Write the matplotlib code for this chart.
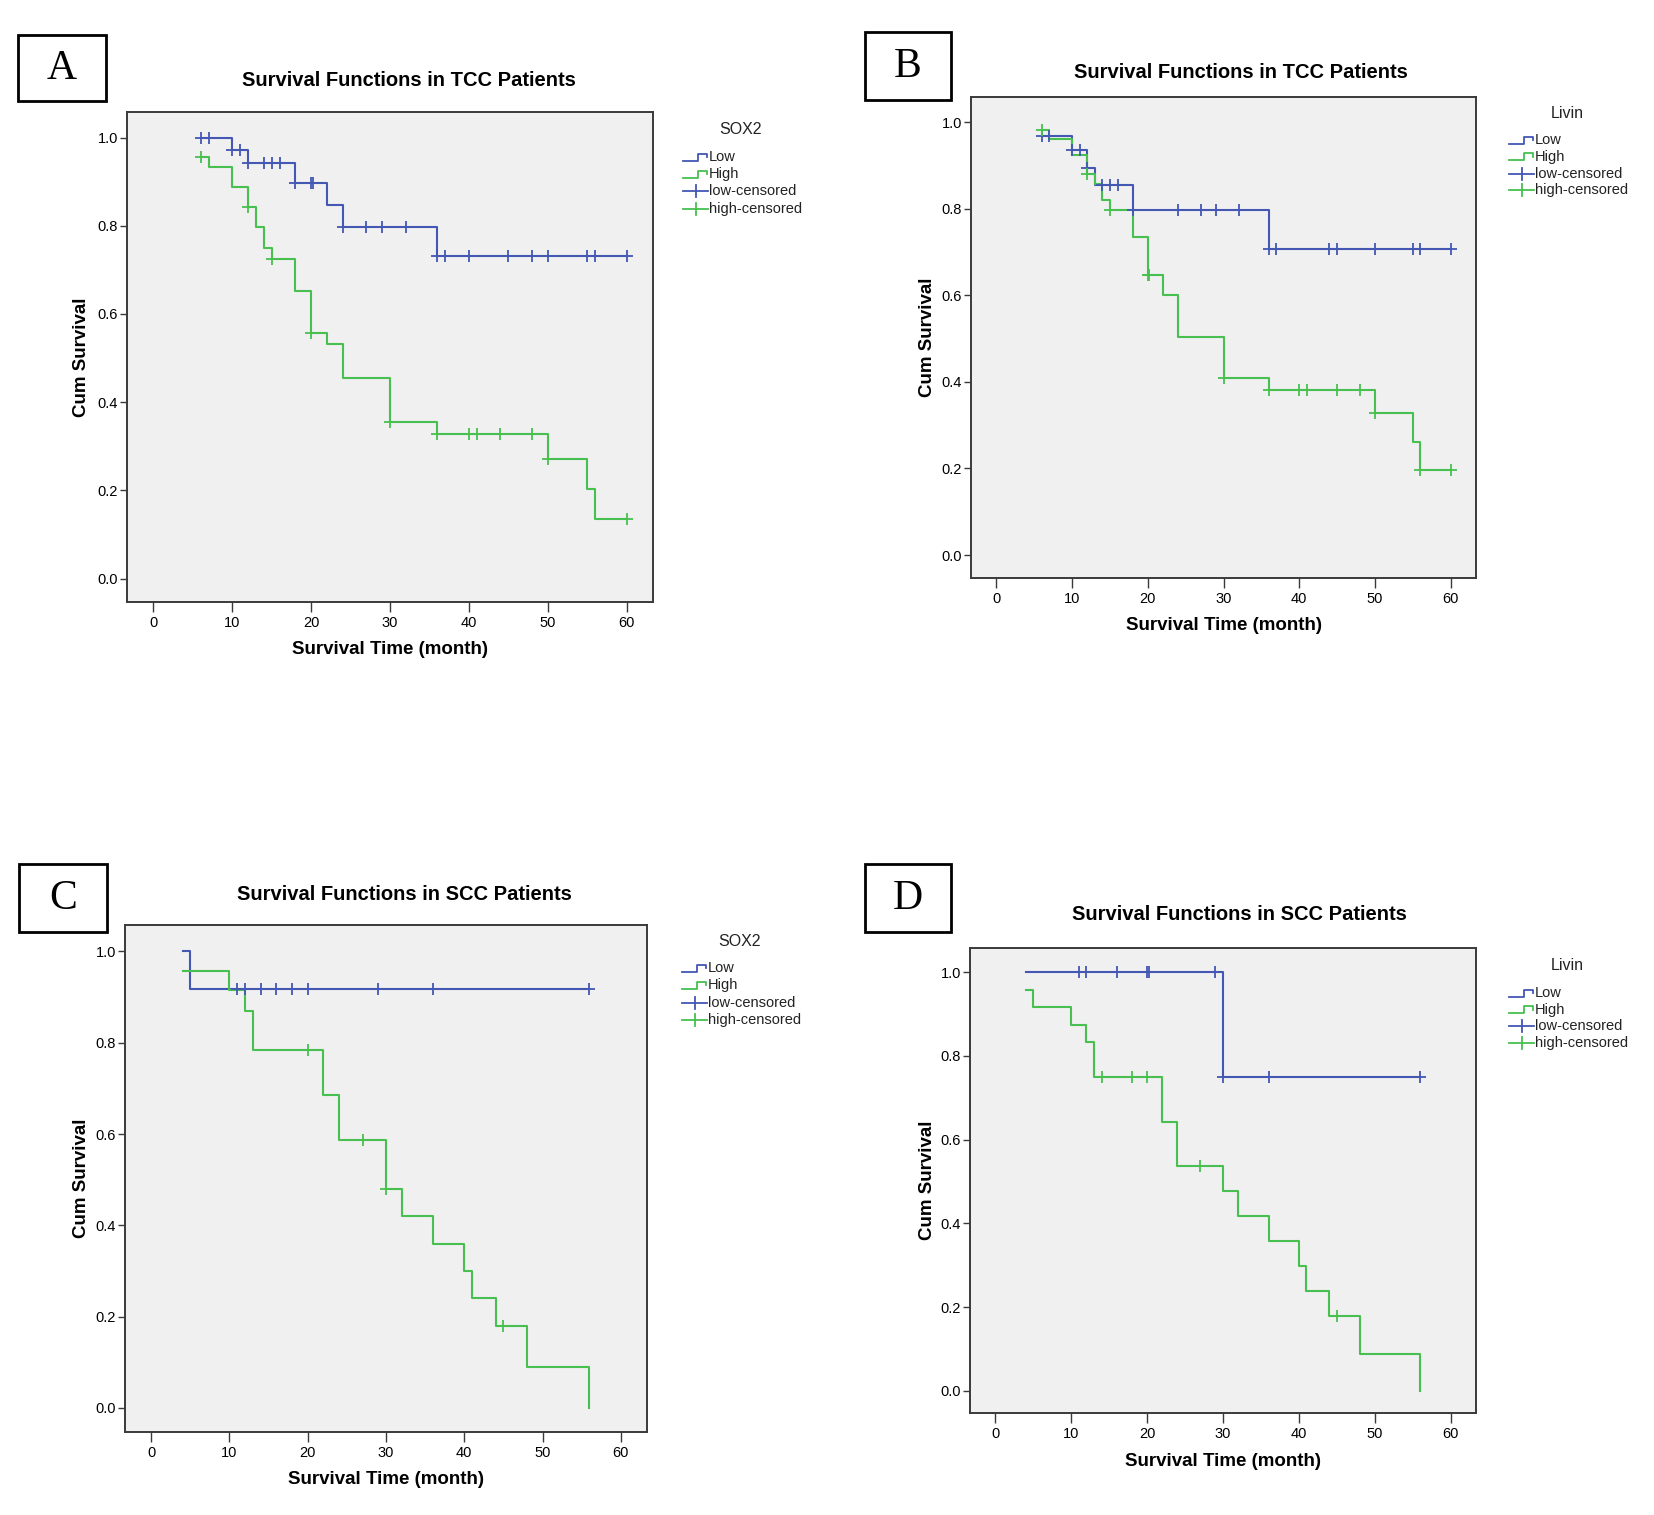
import numpy as np
import matplotlib
matplotlib.use("Agg")
import matplotlib.pyplot as plt
from matplotlib.ticker import FormatStrFormatter

plt.rcParams['font.family'] = ['Liberation Sans', 'DejaVu Sans']

# ---- data ----
# step times / survival after each step, censored times
# A: SOX2 in TCC
a_low_t = [6, 10, 12, 18, 22, 24, 36, 60]
a_low_s = [1.0, 0.971, 0.942, 0.897, 0.848, 0.797, 0.731, 0.731]
a_low_c = [6, 7, 10, 11, 12, 14, 15, 16, 18, 20, 20.2, 24, 27, 29, 32,
           36, 37, 40, 45, 48, 50, 55, 56, 60]
a_high_t = [6, 7, 10, 12, 13, 14, 15, 18, 20, 22, 24, 30, 36, 50, 55, 56, 60]
a_high_s = [0.955, 0.933, 0.888, 0.843, 0.797, 0.750, 0.725, 0.653, 0.556,
            0.532, 0.455, 0.354, 0.328, 0.272, 0.204, 0.136, 0.136]
a_high_c = [6, 12, 15, 20, 30, 36, 40, 41, 44, 48, 50, 60]

# B: Livin in TCC
b_low_t = [6, 10, 12, 13, 18, 36, 60]
b_low_s = [0.967, 0.935, 0.894, 0.855, 0.797, 0.708, 0.708]
b_low_c = [6, 7, 10, 11, 12, 14, 15, 16, 18, 24, 27, 29, 32,
           36, 37, 44, 45, 50, 55, 56, 60]
b_high_t = [6, 7, 10, 12, 13, 14, 15, 18, 20, 22, 24, 30, 36, 50, 55, 56, 60]
b_high_s = [0.981, 0.962, 0.923, 0.881, 0.858, 0.819, 0.798, 0.734, 0.648,
            0.600, 0.504, 0.408, 0.382, 0.328, 0.262, 0.197, 0.197]
b_high_c = [6, 12, 15, 20, 20.2, 30, 36, 40, 41, 45, 48, 50, 56, 60]

# C: SOX2 in SCC
c_low_t = [4, 5, 56]
c_low_s = [1.0, 0.917, 0.917]
c_low_c = [11, 12, 14, 16, 18, 20, 29, 36, 56]
c_high_t = [4, 10, 12, 13, 22, 24, 30, 32, 36, 40, 41, 44, 48, 56]
c_high_s = [0.957, 0.915, 0.870, 0.783, 0.685, 0.587, 0.480, 0.420, 0.360,
            0.300, 0.240, 0.180, 0.090, 0.0]
c_high_c = [20, 27, 30, 45]

# D: Livin in SCC
d_low_t = [4, 30, 56]
d_low_s = [1.0, 0.75, 0.75]
d_low_c = [11, 12, 16, 20, 20.2, 29, 30, 36, 56]
d_high_t = [4, 5, 10, 12, 13, 22, 24, 30, 32, 36, 40, 41, 44, 48, 56]
d_high_s = [0.958, 0.917, 0.875, 0.833, 0.750, 0.643, 0.536, 0.477, 0.417,
            0.357, 0.298, 0.238, 0.179, 0.089, 0.0]
d_high_c = [14, 18, 20, 27, 45]

letters = ['A', 'B', 'C', 'D']
titles = ['Survival Functions in TCC Patients', 'Survival Functions in TCC Patients',
          'Survival Functions in SCC Patients', 'Survival Functions in SCC Patients']
markers = ['SOX2', 'Livin', 'SOX2', 'Livin']
legend_labels = ['Low', 'High', 'low-censored', 'high-censored']
xticks = [0, 10, 20, 30, 40, 50, 60]
yticks = [0.0, 0.2, 0.4, 0.6, 0.8, 1.0]

curves = [
    (a_low_t, a_low_s, a_low_c, a_high_t, a_high_s, a_high_c),
    (b_low_t, b_low_s, b_low_c, b_high_t, b_high_s, b_high_c),
    (c_low_t, c_low_s, c_low_c, c_high_t, c_high_s, c_high_c),
    (d_low_t, d_low_s, d_low_c, d_high_t, d_high_s, d_high_c),
]

# ---- layout (pixels of a 1654x1515 canvas) ----
W, H = 1654, 1515
BLUE = '#4357b3'
GREEN = '#47c04f'

layout = [
    # axes l,t,r,b ; box l,t,r,b ; title xy ; ylabel x ; xlabel y ; legend x0, title y, first row y, step
    dict(ax=(127, 112, 653, 602), box=(18, 35, 106, 101), title=(409, 80), ylab=82, xlab=650,
         leg=(683, 130, 157, 17.2)),
    dict(ax=(971, 97, 1476, 578), box=(865, 32, 951, 100), title=(1241, 72), ylab=927, xlab=626,
         leg=(1509, 114, 140, 16.8)),
    dict(ax=(125, 925, 647, 1432), box=(19, 864, 107, 932), title=(404, 895), ylab=82, xlab=1480,
         leg=(682, 942, 968, 17.3)),
    dict(ax=(970, 948, 1476, 1413), box=(865, 864, 951, 932), title=(1239, 915), ylab=927, xlab=1461,
         leg=(1509, 966, 993, 16.7)),
]


def rect(l, t, r, b):
    return [l / W, 1 - b / H, (r - l) / W, (b - t) / H]


def censor_y(t, s, c):
    idx = np.searchsorted(t, c, side='right') - 1
    return np.array(s)[np.clip(idx, 0, len(s) - 1)]


fig = plt.figure(figsize=(W / 100, H / 100), dpi=100)
fig.patch.set_facecolor('white')

over = fig.add_axes([0, 0, 1, 1], zorder=5)
over.set_xlim(0, W)
over.set_ylim(H, 0)
over.axis('off')
over.patch.set_alpha(0)

for i in range(4):
    lo = layout[i]
    lt, ls, lc, ht, hs, hc = curves[i]
    ax = fig.add_axes(rect(*lo['ax']))
    ax.set_facecolor('#f0f0f0')
    for sp in ax.spines.values():
        sp.set_color('#3a3a3a')
        sp.set_linewidth(1.4)

    ax.step(lt, ls, where='post', color=BLUE, lw=1.5)
    ax.step(ht, hs, where='post', color=GREEN, lw=1.5)
    ax.plot(lc, censor_y(lt, ls, lc), ls='none', marker='+', ms=9, mew=1.3, color=BLUE)
    ax.plot(hc, censor_y(ht, hs, hc), ls='none', marker='+', ms=9, mew=1.3, color=GREEN)

    ax.set_xlim(-3.35, 63.35)
    ax.set_ylim(-0.053, 1.058)
    ax.set_xticks(xticks)
    ax.set_yticks(yticks)
    ax.yaxis.set_major_formatter(FormatStrFormatter('%.1f'))
    ax.tick_params(axis='y', length=5, width=1, pad=1.5, labelsize=10.5, color='#3a3a3a')
    ax.tick_params(axis='x', length=7, width=1, pad=3, labelsize=10.5, color='#3a3a3a')

    # panel letter box
    bl, bt, br, bb = lo['box']
    over.add_patch(plt.Rectangle((bl, bt), br - bl, bb - bt, fill=False, ec='black', lw=2))
    over.text((bl + br) / 2, (bt + bb) / 2 + 1, letters[i], family='Liberation Serif',
              fontsize=30, ha='center', va='center')

    # titles and axis labels
    axl, axt, axr, axb = lo['ax']
    over.text(lo['title'][0], lo['title'][1], titles[i], fontsize=14.5, fontweight='bold',
              ha='center', va='center')
    over.text(lo['ylab'], (axt + axb) / 2, 'Cum Survival', fontsize=13.5, fontweight='bold',
              rotation=90, ha='center', va='center')
    over.text((axl + axr) / 2, lo['xlab'], 'Survival Time (month)', fontsize=13.5,
              fontweight='bold', ha='center', va='center')

    # legend, drawn by hand the way SPSS does
    x0, ty, y0, dy = lo['leg']
    over.text(x0 + 58, ty, markers[i], fontsize=11.5, ha='center', va='center', color='#222222')
    cols = [BLUE, GREEN, BLUE, GREEN]
    for k in range(4):
        yc = y0 + k * dy
        if k < 2:
            over.plot([x0, x0 + 15, x0 + 15, x0 + 24, x0 + 24],
                      [yc + 3.5, yc + 3.5, yc - 3.5, yc - 3.5, yc], color=cols[k], lw=1.3)
        else:
            over.plot([x0, x0 + 25], [yc, yc], color=cols[k], lw=1.3)
            over.plot([x0 + 12.5, x0 + 12.5], [yc - 6, yc + 6], color=cols[k], lw=1.3)
        over.text(x0 + 26, yc, legend_labels[k], fontsize=10.5, ha='left', va='center',
                  color='#222222')

fig.savefig('out.png', dpi=100)
